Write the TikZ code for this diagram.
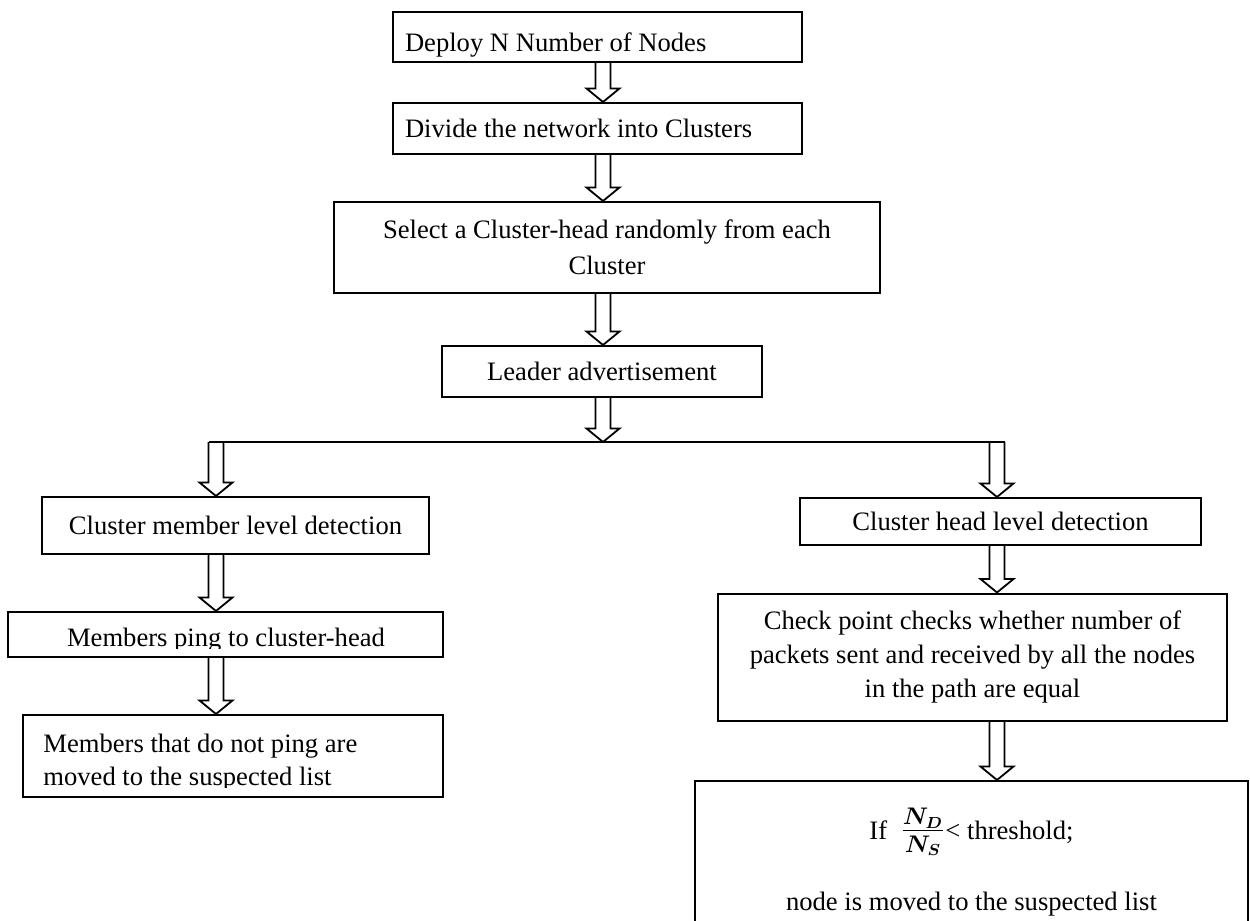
\documentclass[tikz,border=0pt]{standalone}
\usepackage{fontspec}
\setmainfont{Liberation Serif}
\usetikzlibrary{calc}

% hollow block arrow pointing down from #1 to #2 (shaft x taken from #1)
\newcommand\hollowarrow[2]{%
  \draw[hollow] let \p1=(#1), \p2=(#2) in
    (\x1-3.75pt,\y1) -- (\x1-3.75pt,\y2+6.75pt) -- (\x1-8.25pt,\y2+6.75pt)
    -- (\x1,\y2) -- (\x1+8.25pt,\y2+6.75pt) -- (\x1+3.75pt,\y2+6.75pt)
    -- (\x1+3.75pt,\y1);}
% left-aligned line of fixed width inside a box
\newcommand\flushline[1]{\makebox[192.5pt][l]{#1}}

\begin{document}
\begin{tikzpicture}[x=0.5pt,y=-0.5pt,
  box/.style={draw, line width=1pt, inner sep=0pt, align=center,
    font=\fontsize{13.3}{17.5}\selectfont},
  hollow/.style={draw, line width=0.9pt, line join=miter},
  txt/.style={inner sep=0pt, font=\fontsize{13.3}{16.5}\selectfont}]

\path[use as bounding box, fill=white] (0,0) rectangle (1250,921);
\clip (0,0) rectangle (1250,921);

% main column
\node[box, minimum width=204.5pt, minimum height=25pt,
  text height=15pt, text depth=0pt] (deploy) at (597.5,37)
  {\flushline{Deploy N Number of Nodes}};
\node[box, minimum width=204.5pt, minimum height=25.5pt] (divide) at (597.5,128.5)
  {\flushline{Divide the network into Clusters}};
\node[box, minimum width=273pt, minimum height=45.5pt,
  font=\fontsize{13.3}{18}\selectfont] (select) at (607,247.5)
  {Select a Cluster-head randomly from each\\Cluster};
\node[box, minimum width=160pt, minimum height=25.5pt] (leader) at (602,371.5)
  {Leader advertisement};

% left branch
\node[box, minimum width=193.5pt, minimum height=28.5pt] (member) at (235.5,525.5)
  {Cluster member level detection};
\node[box, minimum width=217.5pt, minimum height=22.5pt] (ping) at (225.5,634.5) {};
\node[box, minimum width=210pt, minimum height=41pt] (suspect) at (233,756) {};
\begin{scope}
  \clip (8,612) rectangle (443,648);
  \node[txt, anchor=base] (pingtext) at (226,646) {Members ping to cluster-head};
\end{scope}
\begin{scope}
  \clip (23,715) rectangle (443,787);
  \node[txt, anchor=base west] (suspecta) at (43,752) {Members that do not ping are};
  \node[txt, anchor=base west] (suspectb) at (43,785) {moved to the suspected list};
\end{scope}

% right branch
\node[box, minimum width=200.5pt, minimum height=23.5pt] (chlevel) at (1000.5,521.5)
  {Cluster head level detection};
\node[box, minimum width=254.5pt, minimum height=63.5pt,
  font=\fontsize{13.3}{16.9}\selectfont] (check) at (972.5,657)
  {Check point checks whether number of\\packets sent and received by all the nodes\\in the path are equal};
\node[box, minimum width=276.5pt, minimum height=81pt] (final) at (971.5,862)
  {If~~{\fontsize{17}{17}\selectfont\boldmath$\frac{N_D}{N_S}$}< threshold;\\[17pt]node is moved to the suspected list};

% arrow columns and the split
\coordinate (cA) at (603,0);
\coordinate (cL) at (216,0);
\coordinate (cR) at (997,0);
\coordinate (split) at (603,442);

\hollowarrow{deploy.south -| cA}{divide.north -| cA}
\hollowarrow{divide.south -| cA}{select.north -| cA}
\hollowarrow{select.south -| cA}{leader.north -| cA}
\hollowarrow{leader.south -| cA}{split}
\hollowarrow{cL |- split}{member.north -| cL}
\hollowarrow{cR |- split}{chlevel.north -| cR}
\draw[hollow] ($(cL |- split)+(-7.5,0)$) -- ($(cR |- split)+(7.5,0)$);
\hollowarrow{member.south -| cL}{ping.north -| cL}
\hollowarrow{ping.south -| cL}{suspect.north -| cL}
\hollowarrow{chlevel.south -| cR}{check.north -| cR}
\hollowarrow{check.south -| cR}{final.north -| cR}
\end{tikzpicture}
\end{document}
